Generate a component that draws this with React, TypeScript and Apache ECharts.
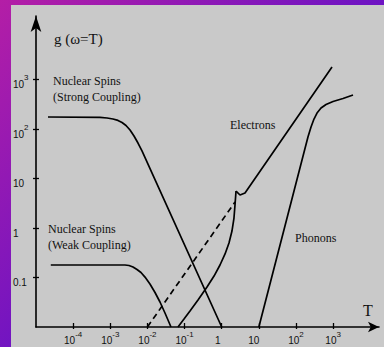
import React, { useEffect, useRef } from "react";
import * as echarts from "echarts";

// Curves as [temperature T, g(ω=T)] pairs, both on log scales.
const strongT = [2.1e-5, 5.3e-4, 8.2e-4, 1.18e-3, 1.61e-3, 2.07e-3, 2.65e-3, 3.4e-3, 4.35e-3, 5.57e-3, 7.14e-3, 1];
const strongG = [175, 171, 167, 159, 149, 135, 118, 95.5, 72.3, 52.1, 36.0, 0.01];

const weakT = [2.5e-5, 2.49e-3, 3.19e-3, 4.09e-3, 5.24e-3, 6.71e-3, 8.6e-3, 0.0117, 0.016, 0.0218, 0.0297, 0.0431];
const weakG = [0.179, 0.179, 0.175, 0.163, 0.145, 0.126, 0.102, 0.074, 0.0498, 0.032, 0.0192, 0.01];

const electronLowT = [0.0665, 0.0966, 0.14, 0.23, 0.402, 0.621, 0.9, 1.23, 1.57, 1.89, 2.14, 2.28, 2.43];
const electronLowG = [0.01, 0.0145, 0.021, 0.0351, 0.0643, 0.107, 0.179, 0.299, 0.498, 0.869, 1.59, 2.92, 5.58];

const electronHighT = [2.43, 3.11, 4.24, 933];
const electronHighG = [5.58, 4.64, 5.09, 1791];

const dashedT = [0.01, 2.28];
const dashedG = [0.01, 3.35];

const phononT = [10, 210, 254, 305, 368, 472, 643, 993, 1845, 3430];
const phononG = [0.01, 68.9, 110, 159, 210, 265, 313, 360, 413, 486];

// Decades carrying ticks and labels
const xTickExps = [-4, -3, -2, -1, 0, 1, 2, 3];
const yTickExps = [-1, 0, 1, 2, 3];

const X_MIN = -5;
const X_MAX = 4.235;
const Y_MIN = -2;
const Y_MAX = 4.283;

const SERIF = '"Liberation Serif", "Times New Roman", serif';
const SANS = '"Liberation Sans", Arial, sans-serif';

const toLog = (ts: number[], gs: number[]) =>
  ts.map((t, i) => [Math.log10(t), Math.log10(gs[i])]);

const xLabel = (v: number) => {
  const e = Math.round(v);
  if (e === 0) return "{p1|1}";
  if (e === 1) return "{p10|10}";
  return `{b|10}{s|${e}}`;
};

const yLabel = (v: number) => {
  const e = Math.round(v);
  if (e === -1) return "{b|0.1}";
  if (e === 0) return "{b|1}";
  if (e === 1) return "{b|10}";
  return `{b|10}{s|${e}}`;
};

const curve = (data: number[][], dashed = false) => ({
  type: "line" as const,
  data,
  showSymbol: false,
  smooth: false,
  silent: true,
  clip: false,
  lineStyle: { color: "#000", width: 1.7, type: dashed ? [6, 4] : "solid" },
});

const App: React.FC = () => {
  const ref = useRef<HTMLDivElement>(null);

  useEffect(() => {
    if (!ref.current) return;
    const chart = echarts.init(ref.current, undefined, { renderer: "svg" });

    const tickLine = { color: "#000", width: 1.3 };
    const labelText = { fontFamily: SANS, color: "#111" };

    chart.setOption({
      animation: false,
      backgroundColor: "transparent",
      grid: {
        left: 36,
        top: 16,
        width: 343,
        height: 311,
        containLabel: false,
        outerBoundsMode: "none",
      },
      xAxis: [
        {
          type: "value",
          min: X_MIN,
          max: X_MAX,
          interval: 1,
          splitLine: { show: false },
          axisLine: {
            show: true,
            onZero: false,
            symbol: ["none", "arrow"],
            symbolSize: [8, 11],
            lineStyle: { color: "#000", width: 1.6 },
          },
          axisTick: { show: true, inside: true, length: 4, customValues: xTickExps, lineStyle: tickLine },
          axisLabel: {
            show: true,
            customValues: xTickExps,
            margin: 3,
            formatter: xLabel,
            color: "#111",
            rich: {
              b: { ...labelText, fontSize: 10, lineHeight: 12, padding: [9, 0, 0, 0] },
              s: { ...labelText, fontSize: 8, lineHeight: 10, verticalAlign: "top" },
              p1: { ...labelText, fontSize: 10, lineHeight: 12, padding: [9, 8, 0, 0] },
              p10: { ...labelText, fontSize: 10, lineHeight: 12, padding: [9, 10, 0, 0] },
            },
          },
        },
        {
          type: "value",
          min: X_MIN,
          max: X_MAX,
          interval: 1,
          position: "bottom",
          splitLine: { show: false },
          axisLine: { show: false, onZero: false },
          axisTick: { show: true, inside: false, length: 2, customValues: xTickExps, lineStyle: tickLine },
          axisLabel: { show: false },
        },
      ],
      yAxis: [
        {
          type: "value",
          min: Y_MIN,
          max: Y_MAX,
          interval: 1,
          splitLine: { show: false },
          axisLine: {
            show: true,
            onZero: false,
            symbol: ["none", "arrow"],
            symbolSize: [8, 16],
            lineStyle: { color: "#000", width: 1.6 },
          },
          axisTick: { show: true, inside: true, length: 3, customValues: yTickExps, lineStyle: tickLine },
          axisLabel: {
            show: true,
            customValues: yTickExps,
            align: "left",
            margin: 23,
            formatter: yLabel,
            color: "#111",
            rich: {
              b: { ...labelText, fontSize: 10, lineHeight: 12, padding: [10, 0, 0, 0] },
              s: { ...labelText, fontSize: 8, lineHeight: 10, verticalAlign: "top" },
            },
          },
        },
        {
          type: "value",
          min: Y_MIN,
          max: Y_MAX,
          interval: 1,
          position: "left",
          splitLine: { show: false },
          axisLine: { show: false, onZero: false },
          axisTick: { show: true, inside: false, length: 3, customValues: yTickExps, lineStyle: tickLine },
          axisLabel: { show: false },
        },
      ],
      series: [
        curve(toLog(strongT, strongG)),
        curve(toLog(weakT, weakG)),
        curve(toLog(electronLowT, electronLowG)),
        curve(toLog(electronHighT, electronHighG)),
        curve(toLog(dashedT, dashedG), true),
        curve(toLog(phononT, phononG)),
      ],
      graphic: [
        { type: "text", left: 54, top: 31, style: { text: "g (ω=T)", fontSize: 15, fontFamily: SERIF, fill: "#111" } },
        { type: "text", left: 53, top: 75, style: { text: "Nuclear Spins", fontSize: 12, fontFamily: SERIF, fill: "#111" } },
        { type: "text", left: 53, top: 91, style: { text: "(Strong Coupling)", fontSize: 12, fontFamily: SERIF, fill: "#111" } },
        { type: "text", left: 48, top: 223, style: { text: "Nuclear Spins", fontSize: 12, fontFamily: SERIF, fill: "#111" } },
        { type: "text", left: 48, top: 239, style: { text: "(Weak Coupling)", fontSize: 12, fontFamily: SERIF, fill: "#111" } },
        { type: "text", left: 230, top: 119, style: { text: "Electrons", fontSize: 12, fontFamily: SERIF, fill: "#111" } },
        { type: "text", left: 295, top: 232, style: { text: "Phonons", fontSize: 12, fontFamily: SERIF, fill: "#111" } },
        { type: "text", left: 363, top: 302, style: { text: "T", fontSize: 16, fontFamily: SERIF, fill: "#111" } },
      ],
    });

    return () => chart.dispose();
  }, []);

  return (
    <div
      style={{
        position: "fixed",
        left: 0,
        top: 0,
        width: 384,
        height: 347,
        overflow: "hidden",
        background: "linear-gradient(135deg, #b41ea6 0%, #7014c2 50%, #4c0cd6 100%)",
      }}
    >
      <div
        style={{ position: "absolute", left: 11, top: 5, right: 0, bottom: 0, background: "#c9c9c9" }}
      />
      <div ref={ref} style={{ position: "absolute", left: 0, top: 0, width: 384, height: 347 }} />
    </div>
  );
};

export default App;
